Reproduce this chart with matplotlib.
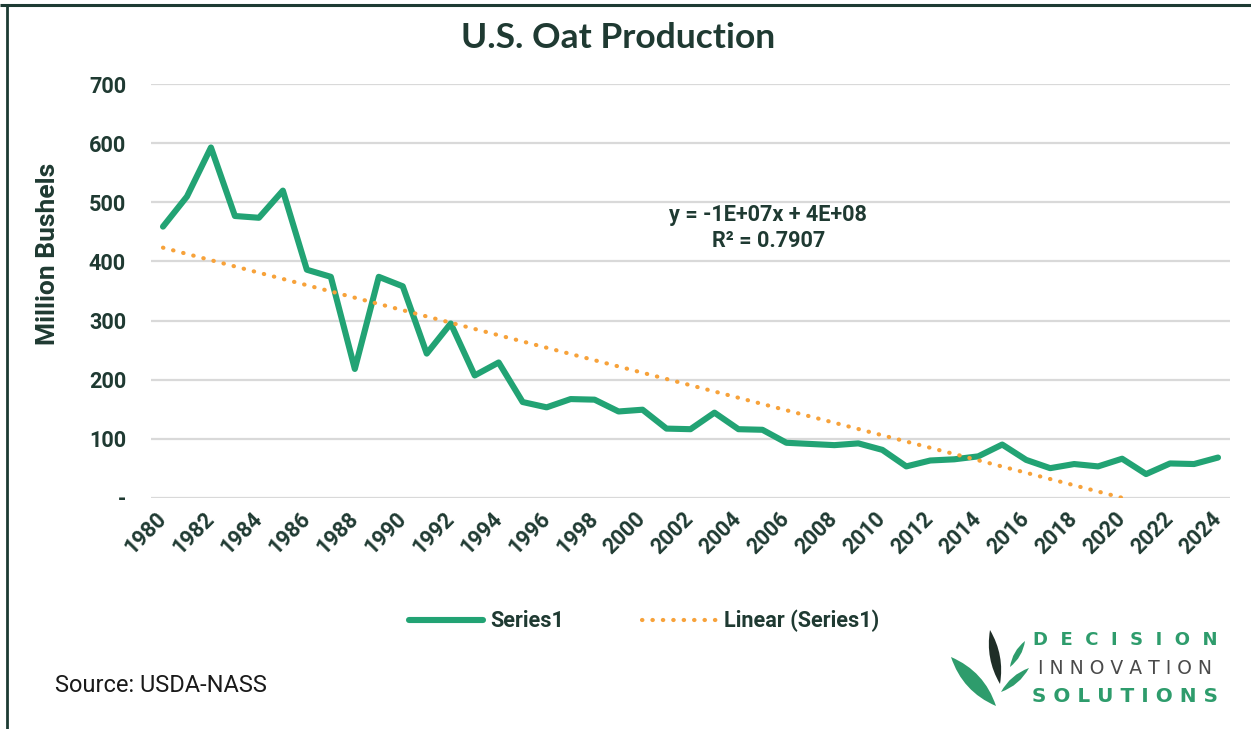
import numpy as np
import matplotlib
matplotlib.use("Agg")
import matplotlib.pyplot as plt
from matplotlib.path import Path
from matplotlib.patches import PathPatch
from matplotlib.lines import Line2D

# ---------------- data ----------------
years = list(range(1980, 2025))
production = [459, 510, 593, 477, 474, 520, 386, 374, 218, 374, 358, 244, 295, 207, 229,
              162, 153, 167, 166, 146, 149, 117, 116, 144, 116, 115, 93, 91, 89, 92,
              81, 53, 63, 65, 70, 90, 64, 50, 57, 53, 66, 40, 58, 57, 68]
xtick_years = list(range(1980, 2025, 2))
ytick_values = [0, 100, 200, 300, 400, 500, 600, 700]
ytick_labels = ["-", "100", "200", "300", "400", "500", "600", "700"]
series_label = "Series1"
trend_label = "Linear (Series1)"
equation_text = "y = -1E+07x + 4E+08"
r2_text = "R² = 0.7907"
title_text = "U.S. Oat Production"
ylabel_text = "Million Bushels"
source_text = "Source: USDA-NASS"

# ---------------- style ----------------
W, H = 1251, 729
TXT = "#1f3a32"
GREEN = "#22a374"
ORANGE = "#f7a23a"
GRID = "#d9d9d9"
FONT = ["Roboto", "DejaVu Sans"]
FS = 15.6

fig = plt.figure(figsize=(W / 100, H / 100), dpi=100)
fig.patch.set_facecolor("white")

def fx(px):
    return px / W

def fy(py):
    return 1 - py / H

ax = fig.add_axes([fx(151), fy(497.7), fx(1230) - fx(151), fy(84.3) - fy(497.7)])

# trend (Excel style linear trendline on category index)
idx = np.arange(1, len(production) + 1)
slope, intercept = np.polyfit(idx, production, 1)
trend = slope * idx + intercept

DOTS = (0, (0.1, 2.4))
ax.plot(years, production, color=GREEN, lw=4.4, solid_joinstyle="round",
        solid_capstyle="round", zorder=3)
ax.plot(years, trend, color=ORANGE, lw=3.0, linestyle=DOTS,
        dash_capstyle="round", zorder=4)

ax.set_xlim(1979.5, 2024.5)
ax.set_ylim(0, 700)
ax.set_yticks(ytick_values)
ax.set_yticklabels(ytick_labels)
ax.set_xticks(xtick_years)
ax.set_xticklabels([str(y) for y in xtick_years], rotation=45, ha="right",
                   va="center", rotation_mode="anchor")
ax.tick_params(axis="both", length=0, colors=TXT, labelsize=FS)
ax.tick_params(axis="y", pad=18)
ax.tick_params(axis="x", pad=13)
for lab in ax.get_xticklabels() + ax.get_yticklabels():
    lab.set_fontfamily(FONT)
    lab.set_fontweight("bold")
ax.grid(axis="y", color=GRID, lw=1.6)
ax.set_axisbelow(True)
for s in ax.spines.values():
    s.set_visible(False)

# equation
fig.text(fx(768), fy(215), equation_text, ha="center", va="center", fontsize=FS,
         fontweight="bold", color=TXT, family=FONT)
fig.text(fx(769), fy(241), r2_text, ha="center", va="center", fontsize=FS,
         fontweight="bold", color=TXT, family=FONT)

# title and labels
fig.text(fx(618), fy(38), title_text, ha="center", va="center", fontsize=25.5,
         fontweight="bold", color=TXT, family=["Lato", "DejaVu Sans"])
fig.text(fx(48), fy(254), ylabel_text, rotation=90, ha="center", va="center",
         fontsize=19, fontweight="bold", color=TXT, family=FONT)
fig.text(fx(55), fy(686), source_text, ha="left", va="center", fontsize=17,
         color="#1a1a1a", family=FONT)

# legend
handles = [Line2D([], [], color=GREEN, lw=4.4, solid_capstyle="round"),
           Line2D([], [], color=ORANGE, lw=3.0, linestyle=DOTS,
                  dash_capstyle="round")]
leg = fig.legend(handles, [series_label, trend_label], loc="center",
                 bbox_to_anchor=(fx(644), fy(621)), ncol=2, frameon=False,
                 handlelength=3.4, columnspacing=3.6, handletextpad=0.35,
                 prop={"family": FONT, "weight": "bold", "size": FS})
for t in leg.get_texts():
    t.set_color(TXT)

# overlay axes in pixel coords for frame and logo
ov = fig.add_axes([0, 0, 1, 1], zorder=-1)
ov.set_xlim(0, W)
ov.set_ylim(H, 0)
ov.axis("off")
ov.plot([0, W], [5, 5], color="#1d3b33", lw=2.2, solid_capstyle="butt")
ov.plot([7, 7], [5, H], color="#1d3b33", lw=2.0, solid_capstyle="butt")

def leaf(p0, p1, width, color):
    p0 = np.array(p0, float)
    p1 = np.array(p1, float)
    d = p1 - p0
    n = np.array([-d[1], d[0]]) / np.hypot(*d)
    mid = (p0 + p1) / 2
    c1 = mid + n * width
    c2 = mid - n * width
    verts = [p0, c1, p1, c2, p0, p0]
    codes = [Path.MOVETO, Path.CURVE3, Path.CURVE3, Path.CURVE3, Path.CURVE3, Path.CLOSEPOLY]
    ov.add_patch(PathPatch(Path(verts, codes), facecolor=color, edgecolor="none"))

LOGO_G = "#2e9c6c"
leaf((951, 657), (996, 706), 15, LOGO_G)
leaf((990, 630), (1000, 684), 10, "#1f2e27")
leaf((1025, 641), (1010, 667), 6, LOGO_G)
leaf((1029, 668), (1001, 692), 7, LOGO_G)

ov.text(1125, 640, "D  E  C  I  S  I  O  N", ha="center", va="center", fontsize=13,
        fontweight="bold", color=LOGO_G, family="DejaVu Sans")
ov.text(1125, 668, "I N N O V A T I O N", ha="center", va="center", fontsize=13.5,
        color="#4a4a4a", family="DejaVu Sans")
ov.text(1125, 696, "S O L U T I O N S", ha="center", va="center", fontsize=14.4,
        fontweight="bold", color=LOGO_G, family="DejaVu Sans")

fig.savefig("out.png", dpi=100, facecolor="white")
